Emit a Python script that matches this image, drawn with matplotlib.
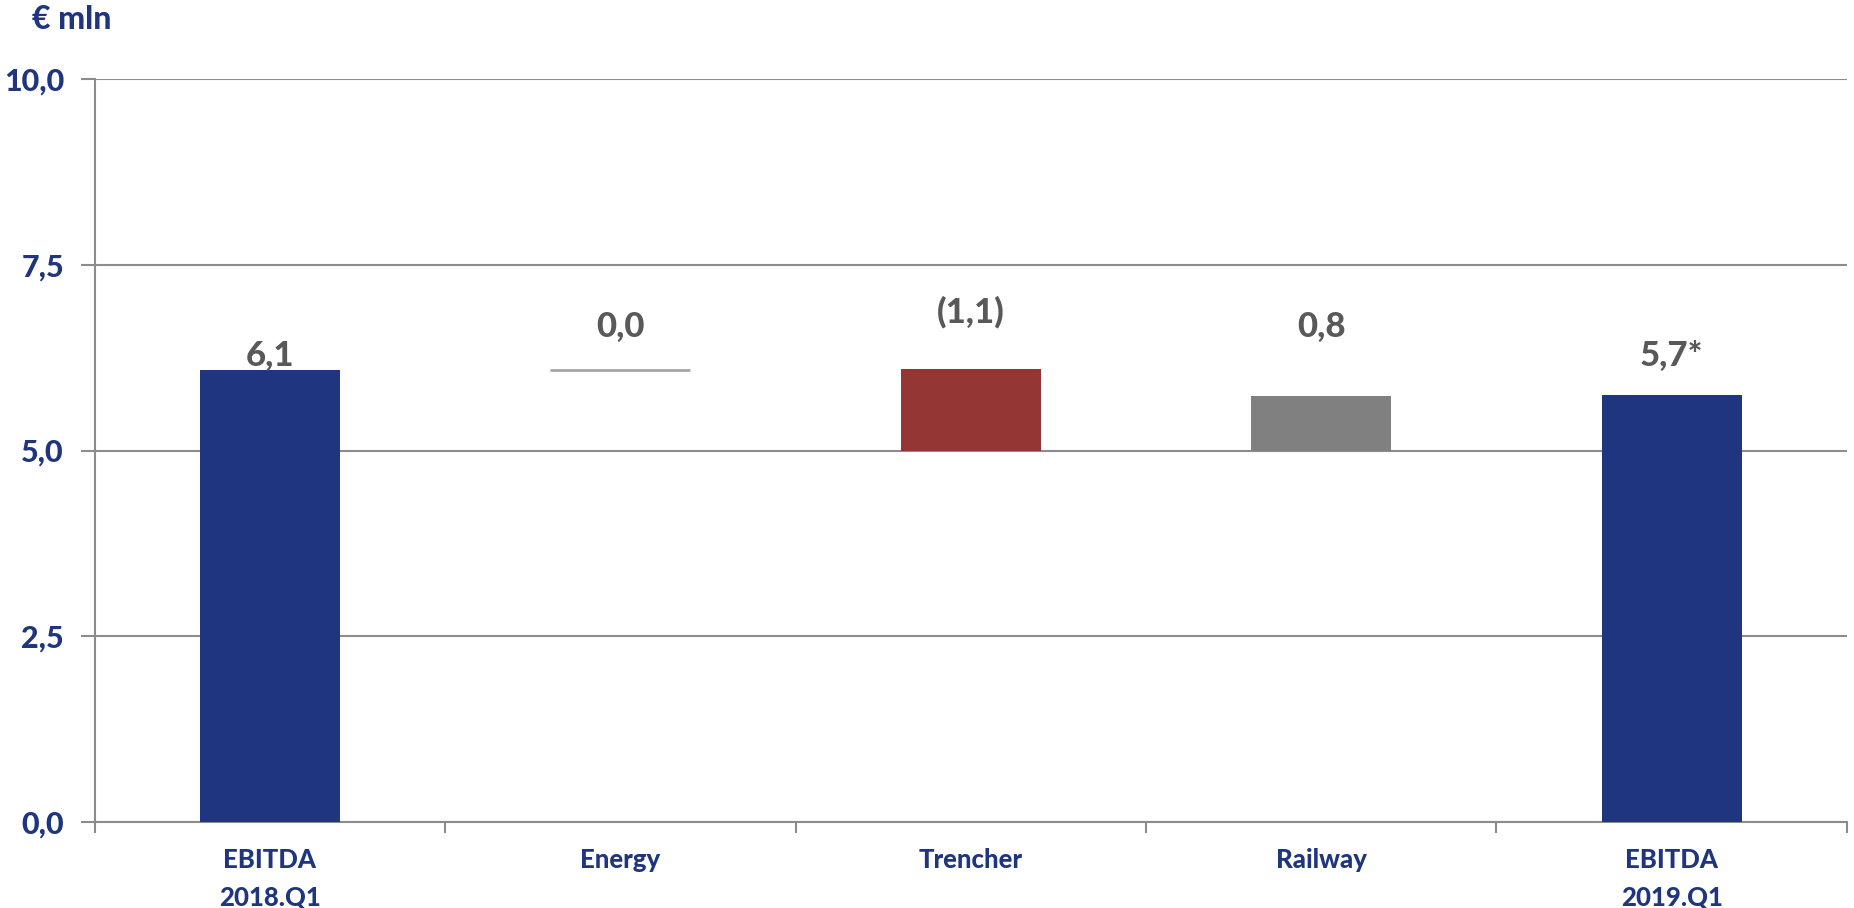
import matplotlib
matplotlib.use("Agg")
import matplotlib.pyplot as plt
from matplotlib.ticker import FixedLocator

# ---- data ----
categories = ["EBITDA\n2018.Q1", "Energy", "Trencher", "Railway", "EBITDA\n2019.Q1"]
bar_bottoms = [0.0, 6.08, 5.0, 5.0, 0.0]
bar_tops = [6.08, 6.08, 6.1, 5.73, 5.75]
value_labels = ["6,1", "0,0", "(1,1)", "0,8", "5,7*"]
label_y = [6.27, 6.66, 6.86, 6.67, 6.27]
y_ticks = [0.0, 2.5, 5.0, 7.5, 10.0]
y_tick_labels = ["0,0", "2,5", "5,0", "7,5", "10,0"]

# ---- style ----
NAVY = "#1F3580"
RED = "#943634"
GREY = "#808080"
LINE_GREY = "#A6A6A6"
LABEL_GREY = "#595959"
AXIS_GREY = "#8C8C8C"
bar_colors = [NAVY, None, RED, GREY, NAVY]
FONT = ["Lato", "DejaVu Sans"]
WEIGHT = "black"
plt.rcParams["font.family"] = FONT

fig = plt.figure(figsize=(18.54, 9.08), dpi=100)
ax = fig.add_axes([0.051, 0.0949, 0.9452, 0.8179])

x = list(range(len(categories)))
width = 0.4
for i in x:
    if bar_colors[i] is None:
        ax.hlines(bar_tops[i], i - width / 2, i + width / 2, color=LINE_GREY, lw=2, zorder=3)
    else:
        ax.bar(i, bar_tops[i] - bar_bottoms[i], bottom=bar_bottoms[i], width=width,
               color=bar_colors[i], zorder=3)
    ax.text(i, label_y[i], value_labels[i], ha="center", va="center",
            fontsize=25, fontweight=WEIGHT, color=LABEL_GREY)

ax.set_xlim(-0.5, len(categories) - 0.5)
ax.set_ylim(0, 10)

ax.set_yticks(y_ticks)
ax.set_yticklabels(y_tick_labels, fontsize=22, fontweight=WEIGHT, color=NAVY)
ax.tick_params(axis="y", length=10, width=1.5, color=AXIS_GREY, pad=12)
ax.yaxis.grid(True, color=AXIS_GREY, lw=1.5, zorder=0)
ax.set_axisbelow(True)

ax.set_xticks(x)
ax.set_xticklabels(categories, fontsize=18.5, fontweight=WEIGHT, color=NAVY, linespacing=1.65)
ax.tick_params(axis="x", which="major", length=0, pad=19)
ax.xaxis.set_minor_locator(FixedLocator([i - 0.5 for i in range(len(categories) + 1)]))
ax.tick_params(axis="x", which="minor", length=8, width=1.5, color=AXIS_GREY)

for s in ["top", "right"]:
    ax.spines[s].set_visible(False)
for s in ["left", "bottom"]:
    ax.spines[s].set_color(AXIS_GREY)
    ax.spines[s].set_linewidth(1.5)

fig.text(0.017, 0.978, "€ mln", ha="left", va="center", fontsize=23,
         fontweight=WEIGHT, color=NAVY)

fig.savefig("out.png", dpi=100)
